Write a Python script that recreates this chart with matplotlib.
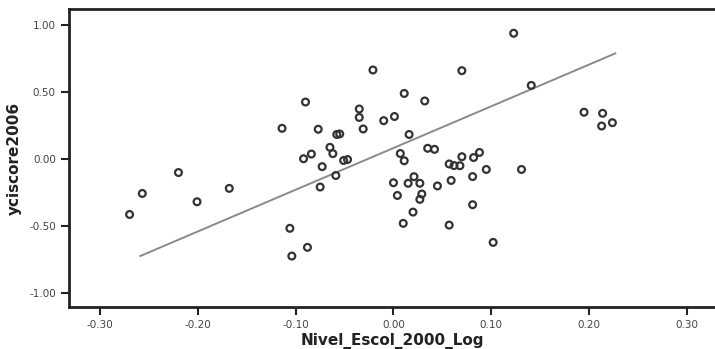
import numpy as np
import matplotlib.pyplot as plt


# valeurs (Nivel_Escol_2000_Log, yciscore2006)
escol_log = [
    -0.270, -0.257, -0.220, -0.201, -0.168, -0.114, -0.106, -0.104, -0.088,
    -0.090, -0.092, -0.084, -0.077, -0.073, -0.075, -0.065, -0.062, -0.059,
    -0.058, -0.055, -0.051, -0.047, -0.035, -0.035, -0.031, -0.021, -0.010,
    0.001, 0.011, 0.016, 0.032, 0.007, 0.011, 0.035, 0.042, 0.057, 0.062,
    0.068, 0.070, 0.082, 0.088, 0.095, 0.131, 0.070, 0.123, 0.141, 0.195,
    0.214, 0.213, 0.224, 0.000, 0.015, 0.021, 0.027, 0.045, 0.059, 0.081,
    0.004, 0.029, 0.027, 0.020, 0.010, 0.081, 0.057, 0.102,
]
yci_score = [
    -0.414, -0.257, -0.101, -0.319, -0.219, 0.229, -0.517, -0.724, -0.659,
    0.425, 0.002, 0.037, 0.222, -0.057, -0.209, 0.087, 0.040, -0.123,
    0.183, 0.187, -0.011, -0.004, 0.373, 0.310, 0.224, 0.664, 0.286,
    0.317, 0.489, 0.183, 0.433, 0.041, -0.013, 0.080, 0.072, -0.037, -0.049,
    -0.050, 0.017, 0.011, 0.049, -0.078, -0.078, 0.659, 0.938, 0.549, 0.349,
    0.341, 0.246, 0.271, -0.177, -0.181, -0.132, -0.181, -0.201, -0.160, -0.131,
    -0.272, -0.261, -0.301, -0.396, -0.480, -0.341, -0.493, -0.622,
]

# droite d'ajustement telle que tracée sur l'original
fit_intercept = 0.082
fit_slope = 3.11
fit_x_range = [-0.259, 0.227]

x_ticks = [-0.30, -0.20, -0.10, 0.00, 0.10, 0.20, 0.30]
y_ticks = [-1.00, -0.50, 0.00, 0.50, 1.00]


def main():
    fig = plt.figure(figsize=(7.15, 3.49), dpi=100)
    ax = fig.add_axes([69 / 715, 1 - 307 / 349, 1 - 69 / 715, 298 / 349])

    ax.scatter(escol_log, yci_score, s=24, facecolors="none",
               edgecolors="#333333", linewidths=1.6, zorder=3)

    xs = np.array(fit_x_range)
    ax.plot(xs, fit_intercept + fit_slope * xs, color="#8a8a8a",
            linewidth=1.4, zorder=2)

    ax.set_xlim(-0.332, 0.329)
    ax.set_ylim(-1.104, 1.119)
    ax.set_xticks(x_ticks)
    ax.set_yticks(y_ticks)
    ax.set_xticklabels([f"{v:.2f}" for v in x_ticks])
    ax.set_yticklabels([f"{v:.2f}" for v in y_ticks])
    ax.tick_params(direction="out", length=6, width=1.5, colors="#222222",
                   labelsize=7.5, labelcolor="#444444")

    for side in ("left", "bottom", "top"):
        ax.spines[side].set_linewidth(2)
        ax.spines[side].set_color("#222222")
    ax.spines["right"].set_visible(False)

    ax.set_xlabel("Nivel_Escol_2000_Log", fontsize=11, fontweight="bold",
                  color="#222222", labelpad=2)
    ax.set_ylabel("yciscore2006", fontsize=11, fontweight="bold",
                  color="#222222", labelpad=5)

    fig.savefig("out.png", dpi=100)
    plt.close(fig)


if __name__ == "__main__":
    main()
